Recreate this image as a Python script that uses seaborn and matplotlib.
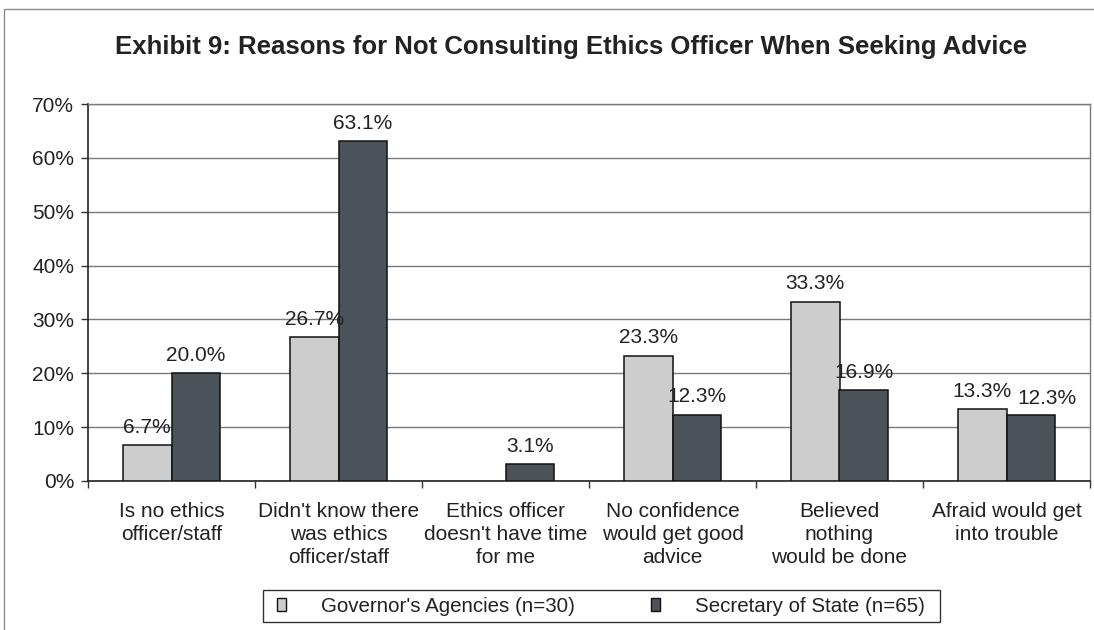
import numpy as np
import pandas as pd
import matplotlib
matplotlib.use("Agg")
import matplotlib.pyplot as plt
from matplotlib.patches import Rectangle
from matplotlib.ticker import FixedLocator, PercentFormatter
import seaborn as sns

categories = [
    "Is no ethics\nofficer/staff",
    "Didn't know there\nwas ethics\nofficer/staff",
    "Ethics officer\ndoesn't have time\nfor me",
    "No confidence\nwould get good\nadvice",
    "Believed\nnothing\nwould be done",
    "Afraid would get\ninto trouble",
]
# no Governor's Agencies response for the "doesn't have time" reason
governor = [6.7, 26.7, np.nan, 23.3, 33.3, 13.3]
secretary = [20.0, 63.1, 3.1, 12.3, 16.9, 12.3]
series_names = ["Governor's Agencies (n=30)", "Secretary of State (n=65)"]
y_ticks = [0, 10, 20, 30, 40, 50, 60, 70]
title = "Exhibit 9: Reasons for Not Consulting Ethics Officer When Seeking Advice"

df = pd.DataFrame({
    "category": categories * 2,
    "value": governor + secretary,
    "series": [series_names[0]] * len(categories) + [series_names[1]] * len(categories),
})

sns.set_theme(style="white")
plt.rcParams["font.family"] = ["Liberation Sans", "DejaVu Sans"]

FS = 15
fig = plt.figure(figsize=(10.94, 6.30), dpi=100)
ax = fig.add_axes([88 / 1094, 1 - 481 / 630, (1090 - 88) / 1094, (481 - 104) / 630])

palette = {series_names[0]: "#cdcdcd", series_names[1]: "#4b5359"}
sns.barplot(data=df, x="category", y="value", hue="series", order=categories,
            hue_order=series_names, palette=palette, width=0.58, gap=0,
            edgecolor="#111111", linewidth=1.1, saturation=1, ax=ax, legend=True,
            zorder=3)

# value labels above each visible bar
label_sets = []
for container in ax.containers:
    labels = ["" if (np.isnan(v) or v <= 0) else f"{v:.1f}%" for v in container.datavalues]
    label_sets.append(ax.bar_label(container, labels=labels, padding=6,
                                   fontsize=FS, color="#222222"))
# nudge the last Secretary of State label right so it clears its neighbour
last = label_sets[1][-1]
last.xyann = (12, last.xyann[1] - 1)

ax.set_ylim(0, 70)
ax.set_xlim(-0.5, len(categories) - 0.5)
ax.yaxis.set_major_locator(FixedLocator(y_ticks))
ax.yaxis.set_major_formatter(PercentFormatter(decimals=0))
ax.grid(axis="y", color="#7a7a7a", linewidth=1.0, zorder=0)
ax.set_axisbelow(True)
ax.set_xlabel("")
ax.set_ylabel("")

ax.tick_params(axis="y", which="major", length=5, width=1, color="#333333",
               direction="out", labelsize=FS, pad=5, left=True, labelcolor="#222222")
ax.tick_params(axis="x", which="major", length=0, labelsize=FS, pad=15,
               labelcolor="#222222")
ax.xaxis.set_minor_locator(FixedLocator(np.arange(-0.5, len(categories), 1.0)))
ax.tick_params(axis="x", which="minor", length=5, width=1, color="#333333",
               direction="out", bottom=True)
for lbl in ax.get_xticklabels():
    lbl.set_linespacing(1.28)
    lbl.set_ha("center")

for side in ["top", "right"]:
    ax.spines[side].set_color("#7a7a7a")
    ax.spines[side].set_linewidth(1.0)
for side in ["left", "bottom"]:
    ax.spines[side].set_color("#222222")
    ax.spines[side].set_linewidth(1.2)

fig.text(571 / 1094, 1 - 47 / 630, title, ha="center", va="center",
         fontsize=18.5, fontweight="bold", color="#222222")

# legend entries, with a separate box drawn around them
ax.get_legend().remove()
handles = [Rectangle((0, 0), 1, 1, facecolor=palette[s], edgecolor="#111111", linewidth=1)
           for s in series_names]
leg = fig.legend(handles, series_names, loc="center left",
                 bbox_to_anchor=(277 / 1094, 1 - 606 / 630),
                 ncol=2, frameon=False, fontsize=14.8, handlelength=0.45, handleheight=0.6,
                 handletextpad=1.7, columnspacing=3.7, borderpad=0, borderaxespad=0)
for t in leg.get_texts():
    t.set_color("#222222")
fig.add_artist(Rectangle((263 / 1094, 1 - 622 / 630), (940 - 263) / 1094, 32 / 630,
                         transform=fig.transFigure, fill=False, edgecolor="#333333",
                         linewidth=1.0))

# outer chart frame
fig.add_artist(Rectangle((4 / 1094, -0.01), 1.02, 1 - 9 / 630 + 0.01, transform=fig.transFigure,
                         fill=False, edgecolor="#8a8a8a", linewidth=1.0))

fig.savefig("out.png", dpi=100)
